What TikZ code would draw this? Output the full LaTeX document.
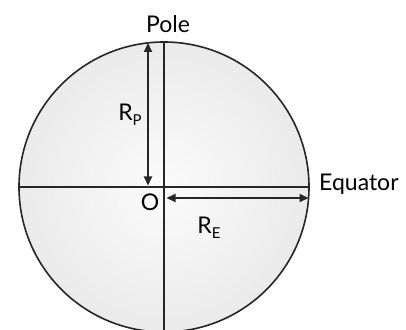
\documentclass[tikz,border=0pt]{standalone}
\usepackage{fontspec}
\setmainfont{Lato}
\usetikzlibrary{arrows.meta,calc}
\begin{document}
\begin{tikzpicture}[x=1pt,y=1pt,
  lbl/.style={inner sep=0pt,font=\fontsize{23}{26}\selectfont},
  sub/.style={},
  axis/.style={line width=1.4pt,black!85},
  dim/.style={line width=1.8pt,black!85,{Triangle[length=9pt,width=8pt]}-{Triangle[length=9pt,width=8pt]}}]
\useasboundingbox (0,0) rectangle (406,329);
\node[circle,minimum size=290pt,inner sep=0pt,draw=black!85,line width=1.6pt,
      inner color=gray!3,outer color=gray!16] (globe) at (164,142) {};
\draw[axis] (globe.north) -- (globe.south);
\draw[axis] (globe.west) -- (globe.east);
\coordinate (ptop) at (148,286);
\coordinate (pbot) at (148,143.5);
\coordinate (eleft) at (166.5,131);
\coordinate (eright) at (308.5,131);
\draw[dim] (pbot) -- (ptop);
\draw[dim] (eleft) -- (eright);
\node[lbl] (pole) at (168,305) {Pole};
\node[lbl,anchor=west] (equator) at (319,145) {Equator};
\node[lbl] (o) at (150,127) {O};
\node[lbl] (rp) at (130,214) {R\raisebox{-5pt}{\fontsize{15}{16}\selectfont P}};
\node[lbl] (re) at (209,101) {R\raisebox{-5pt}{\fontsize{15}{16}\selectfont E}};
\end{tikzpicture}
\end{document}
